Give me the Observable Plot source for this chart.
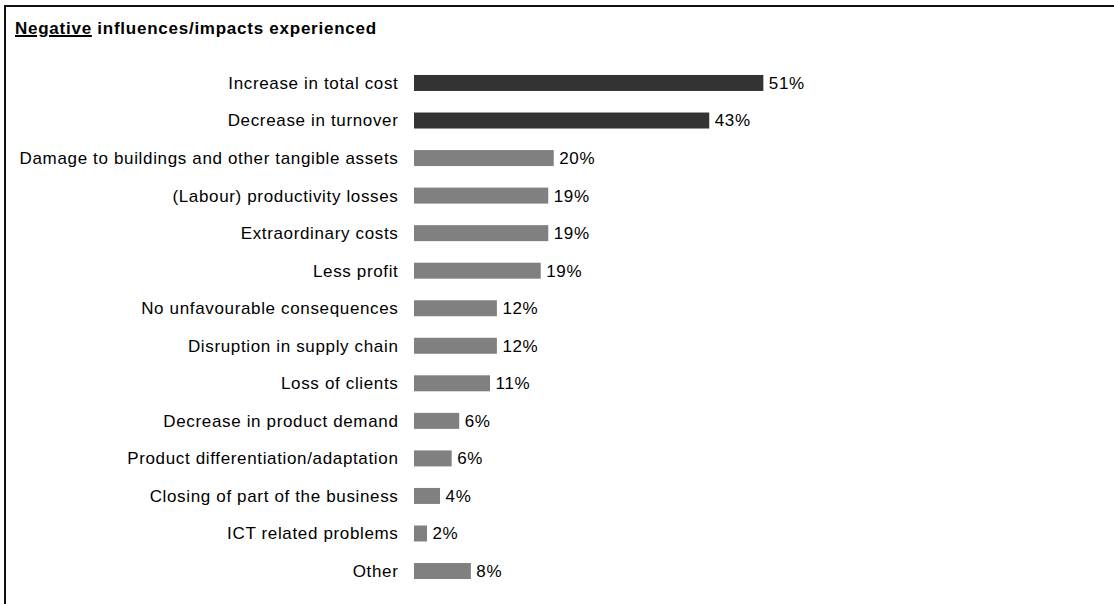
<!DOCTYPE html>
<html>
<head>
<meta charset="utf-8">
<script src="https://cdn.jsdelivr.net/npm/d3@7"></script>
<script src="https://cdn.jsdelivr.net/npm/@observablehq/plot@0.6"></script>
<style>
  html, body { margin: 0; padding: 0; background: #fff; }
  #wrap { position: relative; width: 1114px; height: 604px; overflow: hidden; font-family: Arial, "Liberation Sans", sans-serif; }
  #frame { position: absolute; left: 4px; top: 5px; width: 1200px; height: 700px; border-top: 2px solid #111; border-left: 2px solid #111; }
  #title { position: relative; box-sizing: border-box; height: 44px; padding: 18.5px 0 0 15px; font-size: 17px; font-weight: bold; letter-spacing: 0.75px; color: #000; white-space: nowrap; }
  #title u { text-decoration-thickness: 2px; }
  #chart { position: relative; }
  #chart svg text { letter-spacing: 0.65px; }
</style>
</head>
<body>
<div id="wrap">
  <div id="frame"></div>
  <div id="title"><u>Negative</u> influences/impacts experienced</div>
  <div id="chart"></div>
</div>
<script>
const categories = [
  "Increase in total cost",
  "Decrease in turnover",
  "Damage to buildings and other tangible assets",
  "(Labour) productivity losses",
  "Extraordinary costs",
  "Less profit",
  "No unfavourable consequences",
  "Disruption in supply chain",
  "Loss of clients",
  "Decrease in product demand",
  "Product differentiation/adaptation",
  "Closing of part of the business",
  "ICT related problems",
  "Other"
];
const values = [51, 43.1, 20.4, 19.6, 19.6, 18.5, 12.1, 12.1, 11.1, 6.6, 5.5, 3.8, 1.9, 8.3];
const valueLabels = ["51%", "43%", "20%", "19%", "19%", "19%", "12%", "12%", "11%", "6%", "6%", "4%", "2%", "8%"];
const groups = ["top", "top", "other", "other", "other", "other", "other", "other", "other", "other", "other", "other", "other", "other"];

const data = categories.map((c, i) => ({category: c, value: values[i], label: valueLabels[i], group: groups[i]}));

const chart = Plot.plot({
  width: 1114,
  height: 560,
  marginLeft: 414,
  marginRight: 15,
  marginTop: 20.2,
  marginBottom: 14.2,
  style: {fontFamily: "Arial, 'Liberation Sans', sans-serif", fontSize: "17px", color: "#000", background: "transparent"},
  x: {domain: [0, 100], axis: null},
  y: {domain: categories, paddingInner: 0.574, paddingOuter: 0.287, align: 0.5, round: false, label: null},
  color: {domain: ["top", "other"], range: ["#333333", "#808080"]},
  marks: [
    Plot.barX(data, {x: "value", y: "category", fill: "group"}),
    Plot.text(data, {x: "value", y: "category", text: "label", textAnchor: "start", dx: 5, fontSize: 17, fill: "#000"}),
    Plot.axisY({tickSize: 0, tickPadding: 16, fontSize: 17, label: null, textAnchor: "end"})
  ]
});
document.getElementById("chart").appendChild(chart);
</script>
</body>
</html>
